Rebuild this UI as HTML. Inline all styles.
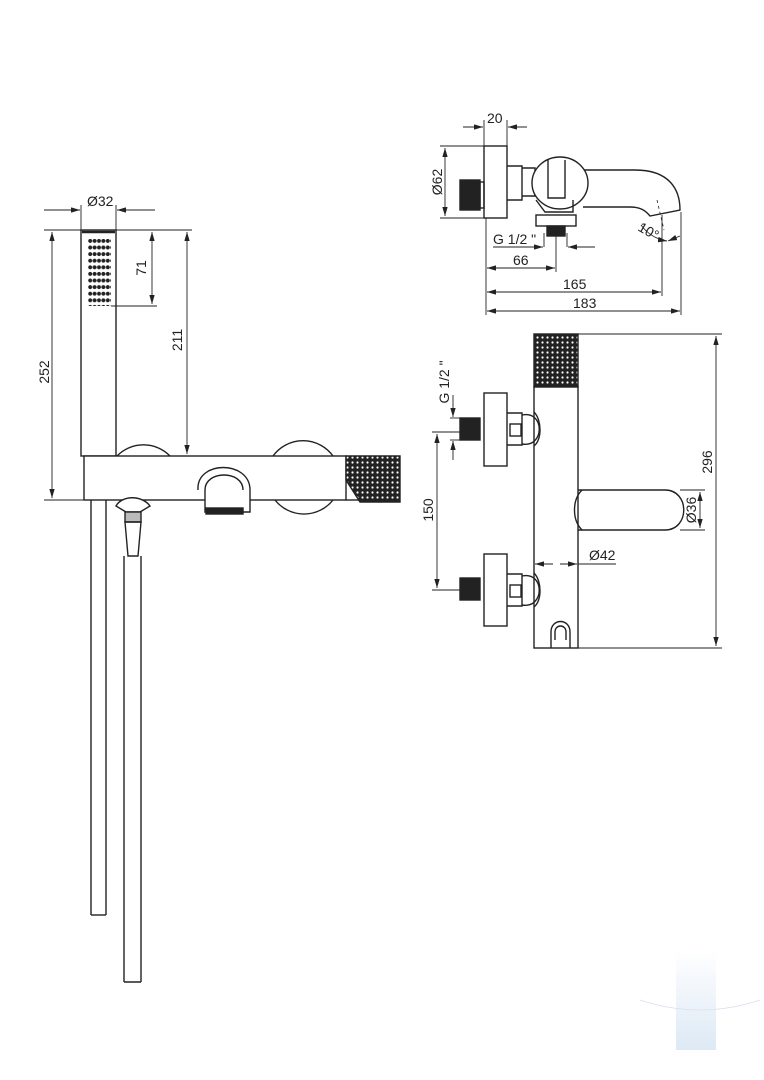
<!DOCTYPE html>
<html><head><meta charset="utf-8"><style>
html,body{margin:0;padding:0;background:#fff}
svg{display:block}
text{font-family:"Liberation Sans",sans-serif;font-size:14px;fill:#222}
</style></head><body>
<svg width="764" height="1080" viewBox="0 0 764 1080" xmlns="http://www.w3.org/2000/svg">
<defs>
<marker id="a" viewBox="0 0 10 6" refX="10" refY="3" markerWidth="10" markerHeight="6" orient="auto-start-reverse"><path d="M0,0L10,3L0,6z" fill="#222"/></marker>
<pattern id="kn" width="5" height="5" patternUnits="userSpaceOnUse"><rect width="5" height="5" fill="#222"/><circle cx="2.5" cy="2.5" r="1.1" fill="#fff"/></pattern>
<pattern id="dots" width="4.4" height="6.6" patternUnits="userSpaceOnUse"><circle cx="2.2" cy="3.3" r="2" fill="#222"/></pattern>
<linearGradient id="wm" x1="0" y1="0" x2="0" y2="1"><stop offset="0" stop-color="#fff"/><stop offset="1" stop-color="#dde9f5"/></linearGradient>
</defs>
<g fill="none" stroke="#222" stroke-width="1.4">
<!-- LEFT VIEW -->
<rect x="81" y="230" width="35" height="226" fill="#fff"/>
<line x1="82" y1="232" x2="115" y2="232" stroke-width="2.5"/>
<rect x="88" y="239" width="23" height="67" fill="url(#dots)" stroke="none"/>
<path d="M117,456 A37,37 0 0 1 170,456"/>
<path d="M273,456 A37,37 0 0 1 333,456"/>
<path d="M146,500 A37,37 0 0 1 170,500" />
<path d="M275,500 A37,37 0 0 0 333,500"/>
<rect x="84" y="456" width="262" height="44" fill="#fff"/>
<path d="M198,490 C196,460 250,460 250,490 L250,512 L205,512 L205,490" fill="#fff"/>
<path d="M205,490 C205,470 243,470 243,490"/>
<rect x="206" y="508" width="37" height="6" fill="#222"/>
<path d="M346,456 L400,456 L400,502 L360,502 L346,480 Z" fill="url(#kn)"/>
<line x1="346" y1="500" x2="360" y2="500"/>
<path d="M116,506 C122,495 142,495 150,506 L140,512 L126,512 Z" fill="#fff"/>
<rect x="125" y="512" width="16" height="10" fill="#bbb"/>
<path d="M125,522 L141,522 L138,556 L128,556 Z"/>
<line x1="91" y1="500" x2="91" y2="915"/><line x1="106" y1="500" x2="106" y2="915"/><line x1="91" y1="915" x2="106" y2="915"/>
<line x1="124" y1="556" x2="124" y2="982"/><line x1="141" y1="556" x2="141" y2="982"/><line x1="124" y1="982" x2="141" y2="982"/>
<g stroke-width="0.9">
<line x1="44" y1="230" x2="81" y2="230"/><line x1="44" y1="500" x2="84" y2="500"/>
<line x1="52" y1="232" x2="52" y2="498" marker-start="url(#a)" marker-end="url(#a)"/>
<line x1="116" y1="230" x2="192" y2="230"/><line x1="111" y1="306" x2="157" y2="306"/>
<line x1="152" y1="232" x2="152" y2="304" marker-start="url(#a)" marker-end="url(#a)"/>
<line x1="187" y1="232" x2="187" y2="454" marker-start="url(#a)" marker-end="url(#a)"/>
<line x1="81" y1="205" x2="81" y2="230"/><line x1="116" y1="205" x2="116" y2="230"/>
<line x1="44" y1="210" x2="80" y2="210" marker-end="url(#a)"/>
<line x1="155" y1="210" x2="117" y2="210" marker-end="url(#a)"/>
</g>
<!-- TOP RIGHT VIEW -->
<rect x="484" y="146" width="23" height="72" fill="#fff"/>
<rect x="460" y="180" width="20" height="30" fill="#222"/>
<rect x="480" y="182" width="4" height="26"/>
<path d="M507,166 L522,166 L522,200 L507,200"/>
<path d="M522,168 L535,168 L535,196 L522,196"/>
<path d="M583,170 L635,170 C670,170 680,190 680,210 L650,216 C645,210 640,207 630,207 L583,207"/>
<line x1="657" y1="200" x2="664" y2="230" stroke-dasharray="3,3" stroke-width="0.8"/>
<ellipse cx="560" cy="183" rx="28" ry="26" fill="#fff"/>
<path d="M548,160 L548,198 L565,198 L565,160"/>
<path d="M536,200 L545,212 L573,212 L573,200"/>
<rect x="536" y="215" width="40" height="11" fill="#fff"/>
<rect x="547" y="226" width="18" height="10" fill="#222"/>
<g stroke-width="0.9">
<line x1="484" y1="120" x2="484" y2="146"/><line x1="507" y1="120" x2="507" y2="146"/>
<line x1="463" y1="127" x2="483" y2="127" marker-end="url(#a)"/><line x1="527" y1="127" x2="508" y2="127" marker-end="url(#a)"/>
<line x1="440" y1="146" x2="484" y2="146"/><line x1="440" y1="218" x2="484" y2="218"/>
<line x1="445" y1="148" x2="445" y2="216" marker-start="url(#a)" marker-end="url(#a)"/>
<line x1="486" y1="218" x2="486" y2="315"/>
<line x1="544" y1="247" x2="544" y2="233"/><line x1="567" y1="247" x2="567" y2="233"/>
<line x1="493" y1="247" x2="543" y2="247" marker-end="url(#a)"/><line x1="595" y1="247" x2="568" y2="247" marker-end="url(#a)"/>
<line x1="556" y1="236" x2="556" y2="272"/>
<line x1="487" y1="268" x2="555" y2="268" marker-start="url(#a)" marker-end="url(#a)"/>
<line x1="662" y1="215" x2="662" y2="296"/><line x1="681" y1="212" x2="681" y2="315"/>
<line x1="487" y1="292" x2="661" y2="292" marker-start="url(#a)" marker-end="url(#a)"/>
<line x1="487" y1="311" x2="680" y2="311" marker-start="url(#a)" marker-end="url(#a)"/>
<path d="M641,225 A40,40 0 0 0 667,241" marker-end="url(#a)"/>
<line x1="680" y1="236" x2="668" y2="241" marker-end="url(#a)"/>
</g>
<!-- BOTTOM RIGHT VIEW -->
<rect x="534" y="334" width="44" height="53" fill="url(#kn)"/>
<rect x="534" y="387" width="44" height="261" fill="#fff"/>
<path d="M578,490 L665,490 C690,490 690,530 665,530 L578,530"/>
<path d="M582,490 C572,500 572,520 582,530"/>
<g>
<rect x="484" y="393" width="23" height="73" fill="#fff"/>
<rect x="460" y="418" width="20" height="22" fill="#222"/>
<path d="M507,413 L522,413 L522,445 L507,445"/><rect x="510" y="424" width="11" height="12"/>
<path d="M522,415 C545,410 545,448 522,444"/>
<path d="M534,412 C542,420 542,440 534,446"/>
</g>
<g>
<rect x="484" y="554" width="23" height="72" fill="#fff"/>
<rect x="460" y="578" width="20" height="22" fill="#222"/>
<path d="M507,574 L522,574 L522,606 L507,606"/><rect x="510" y="585" width="11" height="12"/>
<path d="M522,576 C545,571 545,609 522,605"/>
<path d="M534,573 C542,581 542,601 534,607"/>
</g>
<path d="M551,648 L551,632 C551,618 570,618 570,632 L570,648"/>
<path d="M555,640 L555,632 C555,624 566,624 566,632 L566,640"/>
<g stroke-width="0.9">
<line x1="578" y1="334" x2="722" y2="334"/><line x1="578" y1="648" x2="722" y2="648"/>
<line x1="716" y1="336" x2="716" y2="646" marker-start="url(#a)" marker-end="url(#a)"/>
<line x1="680" y1="490" x2="705" y2="490"/><line x1="680" y1="530" x2="705" y2="530"/>
<line x1="700" y1="492" x2="700" y2="528" marker-start="url(#a)" marker-end="url(#a)"/>
<line x1="535" y1="564" x2="553" y2="564" marker-start="url(#a)"/><line x1="560" y1="564" x2="577" y2="564" marker-end="url(#a)"/>
<line x1="578" y1="564" x2="616" y2="564"/>
<line x1="432" y1="432" x2="460" y2="432"/><line x1="432" y1="590" x2="460" y2="590"/>
<line x1="437" y1="434" x2="437" y2="588" marker-start="url(#a)" marker-end="url(#a)"/>
<line x1="450" y1="418" x2="460" y2="418"/><line x1="450" y1="440" x2="460" y2="440"/>
<line x1="453" y1="395" x2="453" y2="417" marker-end="url(#a)"/>
<line x1="453" y1="460" x2="453" y2="441" marker-end="url(#a)"/>
</g>
</g>
<text x="87" y="206">Ø32</text>
<text transform="translate(49,372) rotate(-90)" text-anchor="middle">252</text>
<text transform="translate(146,268) rotate(-90)" text-anchor="middle">71</text>
<text transform="translate(182,340) rotate(-90)" text-anchor="middle">211</text>
<text x="487" y="123">20</text>
<text transform="translate(442,182) rotate(-90)" text-anchor="middle">Ø62</text>
<text x="493" y="244">G 1/2 "</text>
<text x="513" y="265">66</text>
<text x="563" y="289">165</text>
<text x="573" y="308">183</text>
<text transform="translate(637,230) rotate(30)" font-size="13">10°</text>
<text transform="translate(449,382) rotate(-90)" text-anchor="middle">G 1/2 "</text>
<text transform="translate(433,510) rotate(-90)" text-anchor="middle">150</text>
<text transform="translate(712,462) rotate(-90)" text-anchor="middle">296</text>
<text transform="translate(696,510) rotate(-90)" text-anchor="middle">Ø36</text>
<text x="589" y="560">Ø42</text>
<rect x="676" y="950" width="40" height="100" fill="url(#wm)"/>
<path d="M640,1000 Q700,1020 760,1000" stroke="#dde" fill="none" stroke-width="0.8"/>
</svg>
</body></html>
